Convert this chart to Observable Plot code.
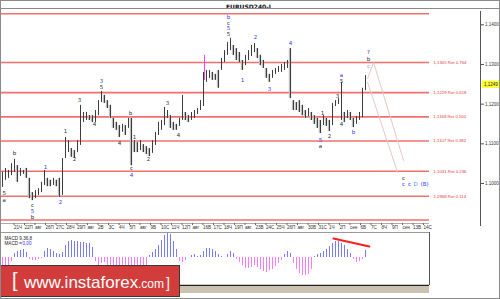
<!DOCTYPE html>
<html><head><meta charset="utf-8">
<script src="https://cdn.jsdelivr.net/npm/d3@7"></script>
<script src="https://cdn.jsdelivr.net/npm/@observablehq/plot@0.6"></script>
<style>
html,body{margin:0;padding:0;background:#fff;}
#wrap{position:relative;width:500px;height:299px;overflow:hidden;font-family:"DejaVu Sans",sans-serif;background:#fff;}
#wrap svg{position:absolute;left:0;background:transparent;}
#titleline{position:absolute;left:0;top:8px;width:500px;height:0;border-top:1px solid #8a8a8a;}
#band{position:absolute;left:0;top:286px;width:429px;height:7px;background-color:#efe9df;
 background-image:radial-gradient(#c9bfae 0.7px,transparent 0.8px);background-size:2px 2px;}
#logo{position:absolute;left:0;top:265px;width:178px;height:30px;background:#d23d3b;border:1px solid #3a3a3a;color:#fff;font-family:"Liberation Sans",Arial,sans-serif;white-space:nowrap;}
#logo span{position:absolute;line-height:1;}
#border{position:absolute;left:0;top:0;width:500px;height:299px;box-sizing:border-box;border:1px solid #8a8a8a;pointer-events:none;}
</style></head><body><div id="wrap"></div>
<script>
// ---- price bars (EURUSD, 4H) ----
const barHigh = [1.1028,1.1038,1.1033,1.1050,1.1061,1.1045,1.1038,1.1033,1.1038,1.1013,
 1.0977,1.0982,1.0987,1.1003,1.1033,1.1013,1.1008,1.1013,1.1008,1.1013,
 1.1063,1.1116,1.1108,1.1088,1.1083,1.1108,1.1197,1.1179,1.1179,1.1171,
 1.1171,1.1184,1.1209,1.1232,1.1222,1.1209,1.1197,1.1164,1.1154,1.1146,
 1.1149,1.1146,1.1164,1.1164,1.1108,1.1103,1.1108,1.1098,1.1093,1.1088,
 1.1108,1.1129,1.1154,1.1159,1.1192,1.1184,1.1171,1.1154,1.1149,1.1164,
 1.1222,1.1179,1.1171,1.1179,1.1184,1.1189,1.1209,1.1280,1.1285,1.1285,
 1.1280,1.1275,1.1285,1.1315,1.1335,1.1355,1.1366,1.1348,1.1340,1.1330,
 1.1310,1.1323,1.1335,1.1348,1.1353,1.1340,1.1323,1.1310,1.1290,1.1275,
 1.1285,1.1290,1.1295,1.1300,1.1305,1.1310,1.1340,1.1209,1.1204,1.1209,
 1.1197,1.1184,1.1189,1.1179,1.1171,1.1164,1.1159,1.1171,1.1164,1.1159,
 1.1202,1.1209,1.1214,1.1255,1.1179,1.1184,1.1179,1.1164,1.1169,1.1179,
 1.1240,1.1272];
const barLow = [1.0990,1.1008,1.1013,1.1020,1.1028,1.1003,1.1018,1.1023,1.1013,1.0962,
 1.0957,1.0962,1.0970,1.0977,1.0995,1.0992,1.0992,1.0995,1.0992,1.0965,
 1.0970,1.1063,1.1078,1.1066,1.1063,1.1078,1.1096,1.1154,1.1159,1.1159,
 1.1154,1.1154,1.1171,1.1204,1.1202,1.1189,1.1164,1.1139,1.1134,1.1116,
 1.1129,1.1121,1.1139,1.1045,1.1078,1.1078,1.1083,1.1078,1.1073,1.1068,
 1.1076,1.1096,1.1121,1.1134,1.1146,1.1164,1.1139,1.1134,1.1134,1.1144,
 1.1159,1.1159,1.1154,1.1159,1.1164,1.1174,1.1184,1.1194,1.1255,1.1265,
 1.1260,1.1260,1.1240,1.1285,1.1305,1.1323,1.1335,1.1323,1.1310,1.1305,
 1.1285,1.1297,1.1310,1.1320,1.1330,1.1315,1.1297,1.1290,1.1265,1.1255,
 1.1265,1.1275,1.1280,1.1280,1.1285,1.1290,1.1214,1.1184,1.1184,1.1179,
 1.1171,1.1164,1.1169,1.1159,1.1149,1.1139,1.1126,1.1146,1.1144,1.1131,
 1.1146,1.1194,1.1199,1.1159,1.1154,1.1164,1.1159,1.1141,1.1149,1.1159,
 1.1166,1.1234];
// highlighted (magenta) bar
const markBarK = [67.33];
const markBarLow = [1.1260];
const markBarHigh = [1.1323];

// ---- MACD histogram (same bars) ----
const macdHist = [-10,-12,-10,-4,4,6,7,8,5,-2,
 -3,-3,-2,-1,6,9,8,6,4,3,
 5,12,16,17,16,16,15,15,14,14,
 10,-4,-8,-6,-5,-8,-12,-14,-16,-18,
 -17,-15,-14,-16,-18,-17,-15,-12,-8,2,
 5,8,12,17,22,25,23,16,8,-4,
 -5,-3,0,2,3,1,2,6,9,9,
 8,6,3,1,0,3,6,4,-2,-5,
 -8,-11,-11,-10,-8,-10,-12,-14,-15,-13,
 -12,-9,-6,-3,3,6,4,-6,-12,-16,
 -18,-18,-17,-12,1,3,4,6,8,11,
 14,16,16,14,12,8,4,-2,-5,-4,
 -2,7];
const macdTrendK = [110.3,122.3];
const macdTrendV = [19,11];

// ---- Fibonacci retracement levels ----
const fibPrices = [1.1428,1.1305,1.1229,1.1168,1.1107,1.1031,1.0968,1.0908];
const fibRatios = [1.0,0.764,0.618,0.5,0.382,0.236,0.114,0];

// ---- price axis ----
const priceTicks = [1.10,1.11,1.12,1.13,1.14];
const lastPrice = 1.1249;

// ---- date axis ----
const dateLabels = ["21Ч","22П","авг","26П","27С","28Ч","29П","авг","2В","3С",
 "4Ч","5П","авг","9В","10С","11Ч","12П","авг","16В","17С",
 "18Ч","19П","авг","23В","24С","25Ч","26П","авг","30В","31С",
 "1Ч","2П","сен","6В","7С","8Ч","9П","сен","13В","14С"];
const dateTickStart = 3.5, dateTickStep = 3.5;

// ---- projection lines ----
const projAK = [121.7,123.7,133.7], projAP = [1.1265,1.1305,1.1058];
const projBK = [121.7,131.7], projBP = [1.1255,1.1028];

// ---- wave labels: [text, bar position, price, colour, bold] ----
const waveLabels = [
 ["5",0.6,1.0975,"d",0],["a",0.6,1.0957,"d",0],["b",4,1.1076,"d",0],
 ["c",10,1.0945,"d",0],["5",10,1.0929,"b",0],["b",10,1.0914,"d",1],
 ["1",14.3,1.1040,"b",0],["2",19.3,1.0952,"b",0],["1",21,1.1131,"d",0],
 ["2",24,1.1061,"d",0],["3",25.7,1.1209,"d",0],["4",30.7,1.1149,"d",0],
 ["3",33,1.1257,"b",0],["5",33,1.1242,"d",0],["4",39,1.1101,"d",0],
 ["b",42.7,1.1176,"d",0],["1",44,1.1116,"d",0],["c",43,1.1038,"d",0],
 ["4",43,1.1020,"b",0],["2",48.7,1.1061,"d",0],["3",55,1.1202,"d",0],
 ["4",58.7,1.1121,"d",0],["b",75.3,1.1418,"b",1],["c",75.3,1.1404,"d",0],
 ["5",75.3,1.1391,"b",0],["5",75.3,1.1376,"d",0],["1",80,1.1260,"b",0],
 ["2",84.3,1.1368,"b",0],["3",89,1.1237,"b",0],["4",96,1.1353,"b",0],
 ["5",106,1.1108,"b",0],["a",106,1.1093,"d",0],["1",106.7,1.1176,"d",0],
 ["2",109,1.1118,"d",0],["3",111.7,1.1219,"d",0],["a",113,1.1272,"b",0],
 ["5",113,1.1259,"d",0],["4",113,1.1149,"d",0],["b",117,1.1129,"b",0],
 ["?",122,1.1330,"d",1],["b",122,1.1313,"d",1],["c",122,1.1295,"l",0],
 ["c",133.7,1.1013,"d",1],["c",133.7,1.0997,"b",1],["c",135.7,1.0997,"b",1],
 ["D",137.7,1.0997,"c",1],["(B)",140.7,1.0997,"b",1]
];
const waveColors = {d:"#2e2e2e", b:"#3636ff", l:"#9a9aff", c:"#2aa0ff"};

// ---------------- build ----------------
const X_DOMAIN = [-2/3, 478/3];
const X_PANEL_END = 427/3;      // right edge of the bars / MACD panel
const X_FIB_LABEL = 431/3;
const Y_DOMAIN = [1.08992, 1.14411];
const fmtP = d => d.toFixed(4).replace(".", ",");
const SMALL = "Liberation Sans, Arial, sans-serif";

const bars = barHigh.map((h, i) => ({i, high: h, low: barLow[i]}));
bars.forEach((b, i) => { b.down = i > 0 && (b.high + b.low) < (bars[i-1].high + bars[i-1].low); });
const fibs = fibPrices.map((p, i) => ({p, r: fibRatios[i]}));
const dateTicks = dateLabels.map((_, j) => dateTickStart + dateTickStep * j);
const labelAt = new Map(dateTicks.map((t, j) => [t, dateLabels[j]]));
const waves = waveLabels.map(([t, k, p, c, b]) => ({t, k, p, c: waveColors[c], b}));
const projA = projAK.map((k, i) => ({k, p: projAP[i]}));
const projB = projBK.map((k, i) => ({k, p: projBP[i]}));

const pricePlot = Plot.plot({
  width: 500, height: 232,
  marginTop: 8, marginBottom: 9, marginLeft: 0, marginRight: 20,
  x: {domain: X_DOMAIN, axis: null},
  y: {domain: Y_DOMAIN, axis: null},
  style: {fontFamily: "DejaVu Sans, sans-serif", background: "transparent"},
  marks: [
    Plot.ruleY(fibs, {y: "p", x1: X_DOMAIN[0], x2: X_PANEL_END, stroke: "#f46e6e", strokeWidth: 1.6}),
    Plot.text(fibs.filter(d => d.r > 0 && d.r < 1), {
      x: X_FIB_LABEL, y: "p", text: d => `${fmtP(d.p)} Ret ${d.r.toFixed(3)}`,
      textAnchor: "start", fill: "#e23a3a", fontSize: 4.3, fontFamily: SMALL
    }),
    Plot.line(projA, {x: "k", y: "p", stroke: "#e9c6c6", strokeWidth: 1}),
    Plot.line(projB, {x: "k", y: "p", stroke: "#e9c6c6", strokeWidth: 1}),
    Plot.rect(bars.filter(d => d.down), {x1: d => d.i - 0.4, x2: d => d.i + 0.4, y1: "low", y2: "high", fill: "#bdbdbd"}),
    Plot.ruleX(bars, {x: "i", y1: "low", y2: "high", stroke: "#3d3d3d", strokeWidth: 1}),
    Plot.ruleX(markBarK.map((k, i) => ({k, lo: markBarLow[i], hi: markBarHigh[i]})),
      {x: "k", y1: "lo", y2: "hi", stroke: "#ff3cff", strokeWidth: 1}),
    Plot.text(waves, {x: "k", y: "p", text: "t", fill: "c", fontSize: 5.5,
      fontWeight: d => d.b ? "bold" : "normal"}),
    // right price axis
    Plot.ruleX([X_DOMAIN[1]], {y1: Y_DOMAIN[0], y2: Y_DOMAIN[1], stroke: "#555", dy: 3}),
    Plot.axisY(priceTicks, {anchor: "right", tickSize: 3, tickPadding: 1.5, fontSize: 4.5,
      fontFamily: SMALL, tickFormat: fmtP, stroke: "#555", color: "#333"}),
    Plot.rect([lastPrice], {x1: X_DOMAIN[1] + 0.6, x2: X_DOMAIN[1] + 6.6, y1: d => d - 0.00095, y2: d => d + 0.00095, fill: "#ffff33"}),
    Plot.text([lastPrice], {x: X_DOMAIN[1] + 1.2, y: d => d, text: d => fmtP(d), textAnchor: "start", fontSize: 4.5, fontFamily: SMALL, fill: "#222"}),
    // bottom date axis
    Plot.ruleY([Y_DOMAIN[0]], {x1: X_DOMAIN[0], x2: X_PANEL_END, stroke: "#aaa"}),
    Plot.axisX(dateTicks, {anchor: "bottom", tickSize: 2, tickPadding: 0.5, fontSize: 4.6, fontFamily: SMALL,
      textAnchor: "start", dx: 1, tickFormat: d => labelAt.get(d), color: "#333", stroke: "#666"}),
    // title
    Plot.text(["EURUSD240-I"], {frameAnchor: "top", dy: -3.8, dx: 8, fontSize: 6, fontWeight: "bold", fill: "#111"})
  ]
});

const macdData = macdHist.map((v, i) => ({i, v}));
const macdPlot = Plot.plot({
  width: 500, height: 67,
  marginTop: 0, marginBottom: 14, marginLeft: 0, marginRight: 20,
  x: {domain: X_DOMAIN, axis: null},
  y: {domain: [-28, 25], axis: null},
  style: {fontFamily: SMALL, background: "transparent"},
  marks: [
    Plot.ruleX(macdData, {x: "i", y1: 0, y2: "v", stroke: d => d.v >= 0 ? "#7a7aff" : "#ff78ff", strokeWidth: 1}),
    Plot.line(macdTrendK.map((k, i) => ({k, v: macdTrendV[i]})), {x: "k", y: "v", stroke: "#ff1f1f", strokeWidth: 2}),
    Plot.ruleY([25], {x1: X_DOMAIN[0], x2: X_PANEL_END, stroke: "#9a9a9a"}),
    Plot.ruleY([-28], {x1: X_DOMAIN[0], x2: X_PANEL_END, stroke: "#222", strokeWidth: 1.5}),
    Plot.ruleX([X_PANEL_END], {y1: -28, y2: 25, stroke: "#555"}),
    Plot.text(["MACD 9,36,8"], {frameAnchor: "top-left", dx: 4, dy: 4, textAnchor: "start", fontSize: 4.6, fill: "#222"}),
    Plot.text(["MACD ="], {frameAnchor: "top-left", dx: 4, dy: 9.5, textAnchor: "start", fontSize: 4.6, fill: "#222"}),
    Plot.text(["0,00"], {frameAnchor: "top-left", dx: 22, dy: 9.5, textAnchor: "start", fontSize: 4.6, fill: "#3030ff"})
  ]
});

const wrap = document.getElementById("wrap");
pricePlot.style.top = "0px";
macdPlot.style.top = "232px";
wrap.appendChild(pricePlot);
wrap.appendChild(macdPlot);
wrap.insertAdjacentHTML("beforeend", `
 <div id="titleline"></div>
 <div id="band"></div>
 <div id="logo">
   <span style="left:11px;top:4px;font-size:20px;">[</span>
   <span style="left:23px;top:8px;font-size:17px;">www.instaforex</span>
   <span style="left:137px;top:12px;font-size:12px;">.com</span>
   <span style="left:165px;top:10px;font-size:14px;">]</span>
 </div>
 <div id="border"></div>`);
</script></body></html>
